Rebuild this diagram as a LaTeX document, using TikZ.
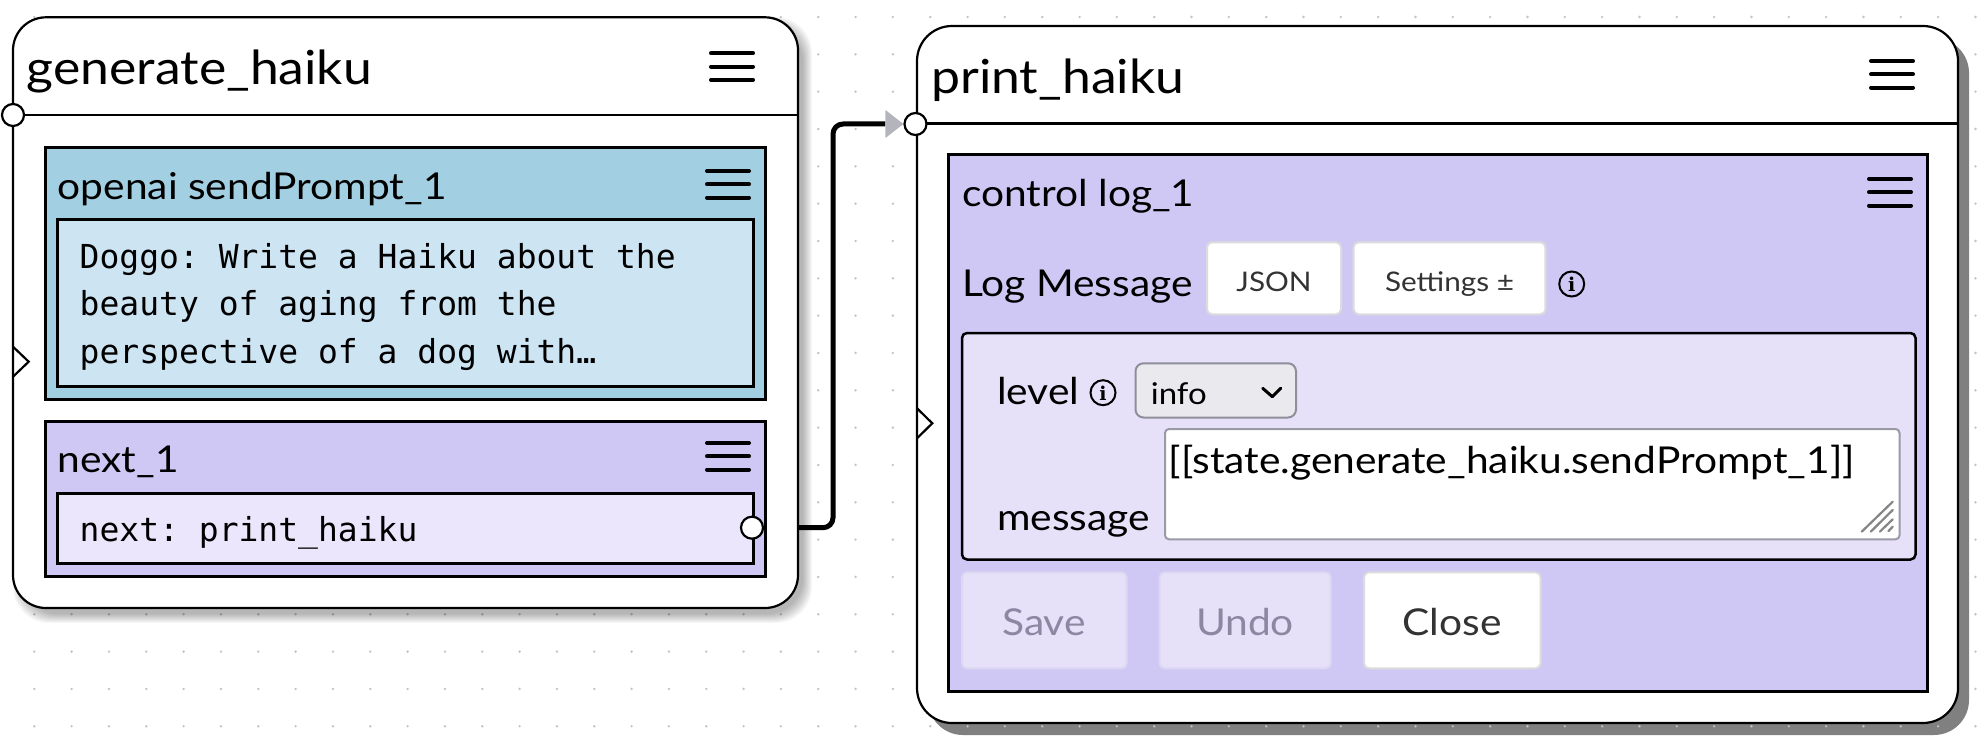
\documentclass[tikz,border=0pt]{standalone}
\usepackage{fontspec}
\setmainfont{Lato}[FakeStretch=1.1]
\setmonofont{DejaVu Sans Mono}
\newfontfamily\serifi{DejaVu Serif}
\usetikzlibrary{arrows.meta}

\definecolor{bluebox}{HTML}{A3CFE3}
\definecolor{bluein}{HTML}{CDE4F3}
\definecolor{purp}{HTML}{D0C8F4}
\definecolor{purpin}{HTML}{ECE6FC}
\definecolor{parambg}{HTML}{E6E0F8}
\definecolor{dotc}{HTML}{C2C2C2}
\definecolor{shadowc}{HTML}{808080}
\definecolor{arrowc}{HTML}{B4B4BC}
\definecolor{btnborder}{HTML}{DCDCDC}
\definecolor{fadeborder}{HTML}{DDD8F2}
\definecolor{selbg}{HTML}{E9E9EE}
\definecolor{selborder}{HTML}{8F8F9B}
\definecolor{tabord}{HTML}{9A9AA6}
\definecolor{fadetext}{HTML}{8C88A4}
\definecolor{btntext}{HTML}{333333}
\definecolor{gripc}{HTML}{858585}

\pgfdeclarelayer{bg}
\pgfdeclarelayer{wire}
\pgfsetlayers{bg,wire,main}

\newcommand\burger[2]{%
  \draw[burgerline] (#1-42,#2) -- (#1,#2) (#1-42,#2+13.3) -- (#1,#2+13.3) (#1-42,#2+26.6) -- (#1,#2+26.6);}
\newcommand\infoicon[3]{%
  \draw[line width=2pt] (#1,#2) circle (12.5);
  \node[inner sep=0, font=\serifi\bfseries\fontsize{19}{19}\selectfont] (#3) at (#1,#2+0.5) {i};}

\begin{document}
\begin{tikzpicture}[x=1pt,y=-1pt,
  nodebox/.style={draw=black, fill=white, line width=2.2pt},
  innerbox/.style={draw=black, line width=3pt},
  burgerline/.style={line width=4pt, line cap=round},
  port/.style={circle, draw=black, fill=white, line width=2.2pt, minimum size=22pt, inner sep=0pt},
  chev/.style={line width=2.2pt, line join=miter},
  lbl/.style={anchor=base west, inner sep=0pt},
  ctr/.style={anchor=base, inner sep=0pt},
  ttl/.style={font=\fontsize{47}{56}\selectfont},
  sub/.style={font=\fontsize{37}{44}\selectfont},
  mono/.style={font=\ttfamily\fontsize{33}{40}\selectfont},
  small/.style={font=\fontsize{27}{32}\selectfont, text=btntext},
  conn/.style={line width=5pt, rounded corners=10pt,
    -{Triangle[length=18pt,width=28pt,line width=0pt,color=arrowc]}},
]
\useasboundingbox (0,0) rectangle (1986,754);

\begin{pgfonlayer}{bg}
\fill[white] (0,0) rectangle (1986,754);
% hard shadow of print_haiku
\fill[shadowc, rounded corners=35pt] (928,38) rectangle (1969,735);
% dot grid
\foreach \i in {0,...,52} {
  \foreach \j in {0,...,19} {
    \fill[dotc] (34.3+\i*37.33, 17+\j*37.33) circle (1.3);
  }
}
% soft shadow of generate_haiku
\foreach \s in {0,...,9} {
  \fill[black, opacity=0.03, rounded corners=36pt] (22-\s, 26-\s) rectangle (803+\s, 614+\s);
}
\end{pgfonlayer}

% ---------- generate_haiku ----------
\draw[nodebox, rounded corners=33pt] (13,17.3) rectangle (798,608);
\draw[line width=2.5pt] (13,115) -- (798,115);
\node[lbl, ttl] (t1) at (26.7,85) {generate\_haiku};
\burger{753}{53.3}
\draw[chev] (13,346.7) -- (28.7,361.7) -- (13,376.7);
\node[port] (gin) at (13,115) {};

% openai sendPrompt_1
\fill[bluebox] (45,148) rectangle (765,399);
\draw[innerbox] (45,148) rectangle (765,399);
\node[lbl, sub] (t2) at (57.5,200) {openai sendPrompt\_1};
\burger{749}{171}
\draw[innerbox, fill=bluein] (57.5,220) rectangle (753,386);
\node[lbl, mono] (p1) at (79.5,268) {Doggo: Write a Haiku about the};
\node[lbl, mono] (p2) at (79.5,315.5) {beauty of aging from the};
\node[lbl, mono] (p3) at (79.5,363) {perspective of a dog with…};

% next_1
\draw[innerbox, fill=purp] (45,421) rectangle (765,576);
\node[lbl, sub] (t3) at (57.5,472.7) {next\_1};
\burger{749}{443}
\draw[innerbox, fill=purpin] (57.5,493) rectangle (753,563);
\node[lbl, mono] (n1) at (79.5,541) {next: print\_haiku};
\node[port] (outport) at (752,527.7) {};

% ---------- print_haiku ----------
\draw[nodebox, rounded corners=35pt] (917,26) rectangle (1958,723);
\draw[line width=2.5pt] (917,123.5) -- (1958,123.5);
\node[lbl, ttl] (t4) at (931,94) {print\_haiku};
\burger{1913}{61}
\draw[chev] (917,408.3) -- (932.3,423.3) -- (917,438.3);
\node[port] (inport) at (915.5,124) {};

% control log_1
\draw[innerbox, fill=purp] (948.5,154.3) rectangle (1927,691.7);
\node[lbl, sub] (t5) at (962,206.7) {control log\_1};
\burger{1911}{179}
\node[lbl, sub] (lm) at (962,296.7) {Log Message};
\draw[draw=btnborder, fill=white, line width=2pt, rounded corners=5pt] (1207,242.3) rectangle (1341,314.3);
\node[ctr, small] (json) at (1274,291) {JSON};
\draw[draw=btnborder, fill=white, line width=2pt, rounded corners=5pt] (1353.6,242.3) rectangle (1545.4,314.3);
\node[ctr, small] (sett) at (1449.5,291) {Settings ±};
\infoicon{1571.7}{284}{i1}

% params box
\draw[draw=black, fill=parambg, line width=2.5pt, rounded corners=5pt] (962,333) rectangle (1915.5,559.5);
\node[lbl, sub] (lev) at (997,404) {level};
\infoicon{1103}{392.7}{i2}
\draw[draw=selborder, fill=selbg, line width=2pt, rounded corners=8pt] (1135.5,363.3) rectangle (1296,417.5);
\node[lbl, font=\fontsize{30}{36}\selectfont] (info) at (1150.7,404) {info};
\draw[line width=3pt, line cap=round, line join=round] (1262.7,388.3) -- (1272.3,396.7) -- (1280.7,388.3);
\draw[draw=tabord, fill=white, line width=2pt, rounded corners=4pt] (1165,429) rectangle (1899.5,539.3);
\node[lbl, font=\fontsize{37}{44}\selectfont] (msgtxt) at (1168.7,473.3) {[[state.generate\_haiku.sendPrompt\_1]]};
\draw[gripc, line width=2.2pt, line cap=round]
  (1861.7,531.7) -- (1892.7,501.7)
  (1870.7,531.7) -- (1892.7,510)
  (1880,531.5) -- (1892.7,519.3)
  (1888.3,531.2) -- (1892.7,526.7);
\node[lbl, sub] (msg) at (997,530) {message};

% buttons
\draw[draw=fadeborder, fill=parambg, line width=2pt, rounded corners=5pt] (962,572.3) rectangle (1126.5,668.3);
\node[ctr, sub, text=fadetext] (save) at (1044,635) {Save};
\draw[draw=fadeborder, fill=parambg, line width=2pt, rounded corners=5pt] (1159.7,572.3) rectangle (1330.7,668.3);
\node[ctr, sub, text=fadetext] (undo) at (1245,635) {Undo};
\draw[draw=btnborder, fill=white, line width=2pt, rounded corners=5pt] (1364,572.3) rectangle (1540.6,668.3);
\node[ctr, sub, text=btntext] (close) at (1452,635) {Close};

% ---------- connector ----------
\coordinate (bend) at (833,300);
\begin{pgfonlayer}{wire}
\draw[conn] (outport.center) -| (bend |- inport) -- (inport.west);
\end{pgfonlayer}
\end{tikzpicture}
\end{document}
